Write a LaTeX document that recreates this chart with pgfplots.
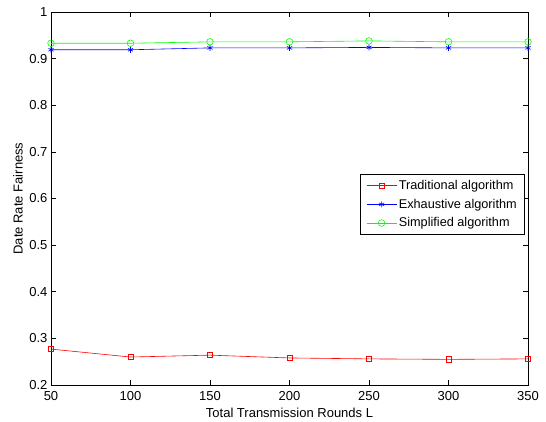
\documentclass[border=0pt]{standalone}
\usepackage{fontspec}
\setmainfont{Liberation Sans}
\usepackage{pgfplots}
\pgfplotsset{compat=1.18}

\begin{document}
\begin{tikzpicture}
  \begin{axis}[
      scale only axis,
      width=477pt, height=373pt,
      xmin=50, xmax=350, ymin=0.2, ymax=1,
      xtick={50,100,...,350},
      ytick={0.2,0.3,...,1.0},
      tick align=inside,
      tick style={black, line width=0.5pt},
      major tick length=5pt,
      /pgf/number format/assume math mode=true,
      yticklabel style={/pgf/number format/fixed, /pgf/number format/precision=1},
      ticklabel style={font=\fontsize{13}{14}\selectfont},
      xticklabel style={yshift=-3pt},
      every axis x label/.style={at={(axis description cs:0.5,0)}, yshift=-28pt, anchor=center},
      every axis y label/.style={at={(axis description cs:0,0.5)}, xshift=-33pt, rotate=90, anchor=center},
      label style={font=\fontsize{13}{14}\selectfont},
      xlabel={Total Transmission Rounds L},
      ylabel={Date Rate Fairness},
      axis line style={black, line width=0.8pt},
      legend style={font=\fontsize{12.7}{14}\selectfont, at={(0.994,0.566)}, anchor=north east,
                    draw=black, line width=0.8pt, row sep=4pt, inner xsep=6pt, inner ysep=4pt},
      legend cell align=left,
      legend image code/.code={
        \draw[mark repeat=2, mark phase=2] plot coordinates {(0pt,0pt) (15pt,0pt) (30pt,0pt)};},
      every axis plot/.append style={line width=0.6pt},
    ]
    \addplot[red, mark=square, mark size=2.6pt, mark options={solid}]
      coordinates {(50,0.277) (100,0.260) (150,0.264) (200,0.258) (250,0.256) (300,0.255) (350,0.256)};
    \addplot[blue, mark=asterisk, mark size=3pt]
      coordinates {(50,0.919) (100,0.919) (150,0.923) (200,0.923) (250,0.924) (300,0.923) (350,0.923)};
    \addplot[green, mark=o, mark size=3.3pt]
      coordinates {(50,0.933) (100,0.933) (150,0.936) (200,0.936) (250,0.938) (300,0.936) (350,0.936)};
    \legend{Traditional algorithm, Exhaustive algorithm, Simplified algorithm}
  \end{axis}
  \pgfresetboundingbox
  \useasboundingbox ([shift={(-51pt,-37pt)}]current axis.south west) rectangle ([shift={(18pt,12pt)}]current axis.north east);
\end{tikzpicture}
\end{document}
